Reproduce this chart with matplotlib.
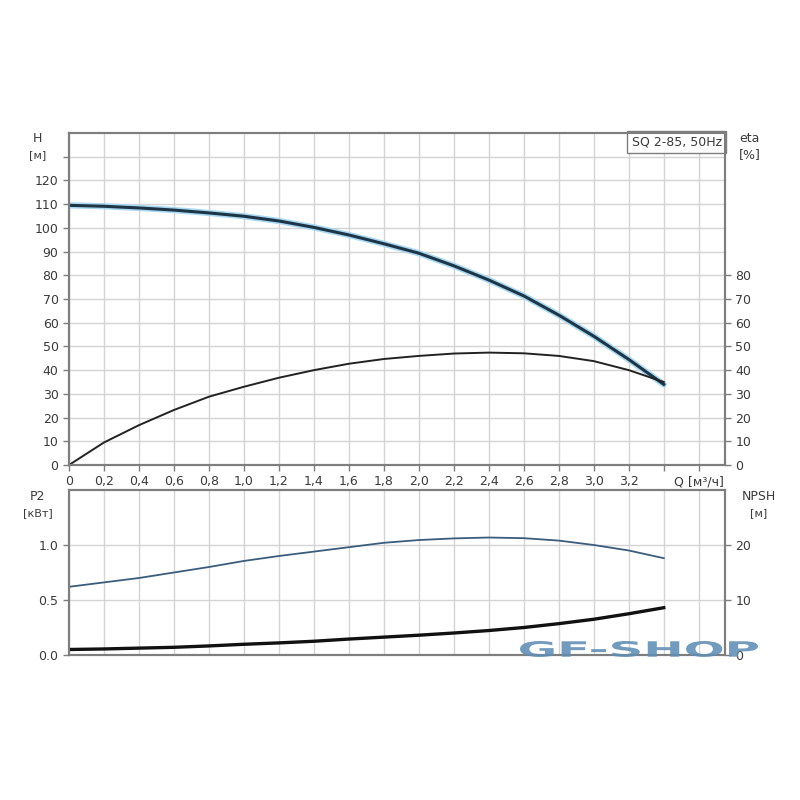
import matplotlib.pyplot as plt
from matplotlib.textpath import TextPath
from matplotlib.patches import PathPatch
from matplotlib.font_manager import FontProperties
from matplotlib.transforms import Affine2D

# расход, м3/ч
q = [0.0, 0.2, 0.4, 0.6, 0.8, 1.0, 1.2, 1.4, 1.6, 1.8, 2.0, 2.2, 2.4, 2.6, 2.8, 3.0, 3.2, 3.4]
# напор H, м
head = [109.5, 109.1, 108.4, 107.5, 106.3, 104.9, 102.9, 100.2, 97.0, 93.3, 89.3, 84.0, 78.0, 71.3, 63.2, 54.3, 44.5, 34.0]
# КПД eta, %
eta = [0.0, 9.5, 16.8, 23.2, 28.8, 33.0, 36.8, 40.0, 42.7, 44.7, 46.0, 47.0, 47.4, 47.1, 46.0, 43.8, 40.0, 35.0]
# мощность P2, кВт
p2 = [0.62, 0.66, 0.70, 0.75, 0.80, 0.855, 0.90, 0.94, 0.98, 1.02, 1.045, 1.06, 1.068, 1.062, 1.04, 1.0, 0.95, 0.88]
# NPSH, м
npsh = [1.0, 1.1, 1.25, 1.4, 1.65, 1.95, 2.2, 2.5, 2.9, 3.25, 3.6, 4.0, 4.45, 5.0, 5.7, 6.5, 7.5, 8.6]

x_ticks = [0.0, 0.2, 0.4, 0.6, 0.8, 1.0, 1.2, 1.4, 1.6, 1.8, 2.0, 2.2, 2.4, 2.6, 2.8, 3.0, 3.2, 3.4, 3.6]
x_labels = ['0', '0,2', '0,4', '0,6', '0,8', '1,0', '1,2', '1,4', '1,6', '1,8',
            '2,0', '2,2', '2,4', '2,6', '2,8', '3,0', '3,2', '', 'Q [м³/ч]']
h_ticks = list(range(0, 140, 10))
h_labels = [str(v) for v in range(0, 130, 10)] + ['']
eta_ticks = list(range(0, 90, 10))
p2_ticks = [0.0, 0.5, 1.0]
p2_labels = ['0.0', '0.5', '1.0']
npsh_ticks = [0, 10, 20]

grid_c = '#d4d4d4'
spine_c = '#7e7e7e'
text_c = '#3a3a3a'

plt.rcParams['font.family'] = ['DejaVu Sans']

fig = plt.figure(figsize=(8, 8), dpi=100)

def style_axes(ax):
    for s in ax.spines.values():
        s.set_color(spine_c)
        s.set_linewidth(1.5)
    ax.tick_params(colors=spine_c, labelcolor=text_c, labelsize=9, length=4, width=1)
    ax.grid(True, color=grid_c, linewidth=1.0)
    ax.set_axisbelow(True)

# верхний график: H и eta
ax1 = fig.add_axes([0.08625, 0.41875, 0.82, 0.415])
ax1.set_xlim(0, 3.75)
ax1.set_ylim(0, 140)
ax1.set_xticks(x_ticks)
ax1.set_xticklabels(x_labels)
ax1.set_yticks(h_ticks)
ax1.set_yticklabels(h_labels)
style_axes(ax1)

ax1.plot(q, head, color='#a8d8f2', linewidth=4.5, solid_capstyle='round', solid_joinstyle='round')
ax1.plot(q, head, color='#1e3547', linewidth=2.2, solid_joinstyle='round')
ax1.plot(q, eta, color='#222222', linewidth=1.4, solid_joinstyle='round')

ax1b = ax1.twinx()
ax1b.set_ylim(0, 140)
ax1b.set_yticks(eta_ticks)
style_axes(ax1b)
ax1b.grid(False)

fig.text(0.047, 0.823, 'H', fontsize=9, color=text_c, ha='center')
fig.text(0.047, 0.802, '[м]', fontsize=8, color=text_c, ha='center')
fig.text(0.937, 0.823, 'eta', fontsize=9, color=text_c, ha='center')
fig.text(0.937, 0.802, '[%]', fontsize=9, color=text_c, ha='center')

ax1.text(0.995, 0.993, 'SQ 2-85, 50Hz', transform=ax1.transAxes, ha='right', va='top',
         fontsize=9, color=text_c,
         bbox=dict(boxstyle='square,pad=0.35', facecolor='white', edgecolor=spine_c, linewidth=1))

# нижний график: P2 и NPSH
ax2 = fig.add_axes([0.08625, 0.18125, 0.82, 0.20625])
ax2.set_xlim(0, 3.75)
ax2.set_ylim(0, 1.5)
ax2.set_xticks(x_ticks)
ax2.set_xticklabels([])
ax2.set_yticks(p2_ticks)
ax2.set_yticklabels(p2_labels)
style_axes(ax2)
ax2.tick_params(axis='x', length=0)

ax2.plot(q, p2, color='#3b5d7d', linewidth=1.3, solid_joinstyle='round')

ax2b = ax2.twinx()
ax2b.set_ylim(0, 30)
ax2b.set_yticks(npsh_ticks)
style_axes(ax2b)
ax2b.grid(False)
ax2b.plot(q, npsh, color='#111111', linewidth=2.4, solid_joinstyle='round')

fig.text(0.047, 0.375, 'P2', fontsize=9, color=text_c, ha='center')
fig.text(0.047, 0.355, '[кВт]', fontsize=8, color=text_c, ha='center')
fig.text(0.948, 0.375, 'NPSH', fontsize=9, color=text_c, ha='center')
fig.text(0.948, 0.355, '[м]', fontsize=8, color=text_c, ha='center')

# водяной знак, растянутый по горизонтали
tp = TextPath((0, 0), 'GF-SHOP', size=1, prop=FontProperties(family='DejaVu Sans', weight='heavy'))
bb = tp.get_extents()
w_px, h_px = 238, 16
tr = (Affine2D().translate(-bb.x0, -bb.y0)
      .scale(w_px / bb.width, h_px / bb.height)
      .translate(520, 800 - 657))
wm = PathPatch(tp, transform=tr, facecolor='#5f8db5', edgecolor='none', alpha=0.88)
fig.patches.append(wm)

fig.savefig('out.png', dpi=100, facecolor='white')
